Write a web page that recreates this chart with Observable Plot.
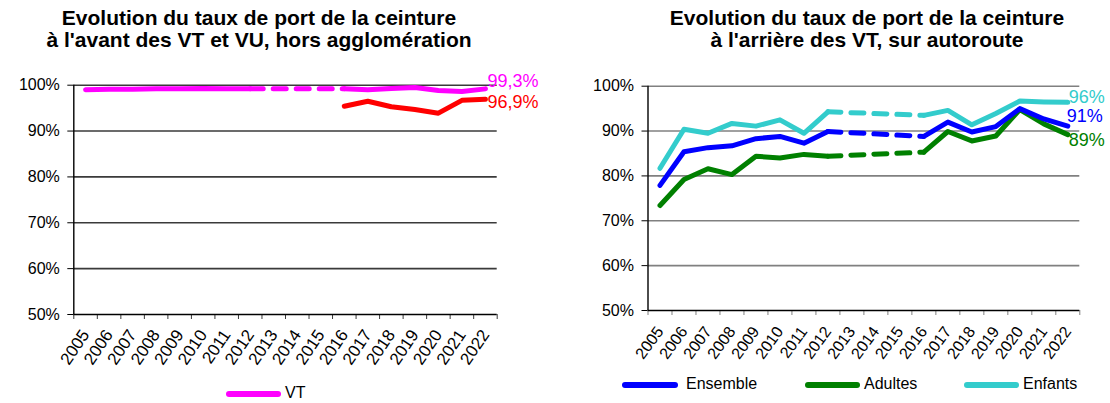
<!DOCTYPE html>
<html>
<head>
<meta charset="utf-8">
<script src="https://cdn.jsdelivr.net/npm/d3@7"></script>
<script src="https://cdn.jsdelivr.net/npm/@observablehq/plot@0.6"></script>
<style>
  html, body { margin: 0; padding: 0; background: #fff; }
  body { width: 1110px; height: 403px; overflow: hidden; font-family: "Liberation Sans", Arial, sans-serif; }
  #root { position: relative; width: 1110px; height: 403px; }
  .title { position: absolute; text-align: center; font-weight: bold; font-size: 21px; line-height: 22px; color: #000; white-space: nowrap; }
  .panel { position: absolute; top: 50px; }
  .leg { position: absolute; font-size: 16px; color: #000; white-space: nowrap; }
  .sw { position: absolute; height: 6px; border-radius: 3px; }
</style>
</head>
<body>
<div id="root"></div>
<script>
// ---------- data ----------
const years = [2005, 2006, 2007, 2008, 2009, 2010, 2011, 2012, 2013, 2014, 2015, 2016, 2017, 2018, 2019, 2020, 2021, 2022];
const yTicks = [50, 60, 70, 80, 90, 100];

// Left chart: front seats, outside built-up areas
const vt = [99.0, 99.1, 99.1, 99.2, 99.2, 99.3, 99.2, 99.2, null, null, null, 99.2, 99.0, 99.3, 99.5, 98.85, 98.65, 99.2];
const vu = [null, null, null, null, null, null, null, null, null, null, null, 95.4, 96.5, 95.3, 94.7, 93.9, 96.7, 96.95];
const leftLabels = ["99,3%", "96,9%"];

// Right chart: rear seats, motorways
const ensemble = [77.9, 85.4, 86.3, 86.7, 88.3, 88.8, 87.3, 89.9, null, null, null, 88.8, 92.0, 89.8, 91.0, 95.0, 92.7, 91.1];
const adultes  = [73.4, 79.2, 81.6, 80.3, 84.4, 84.0, 84.8, 84.4, null, null, null, 85.3, 89.9, 87.8, 88.9, 94.8, 91.6, 89.2];
const enfants  = [81.7, 90.4, 89.5, 91.7, 91.1, 92.5, 89.5, 94.3, null, null, null, 93.5, 94.6, 91.4, 93.9, 96.7, 96.5, 96.4];
const rightLabels = ["91%", "89%", "96%"];
const rightNames = ["Ensemble", "Adultes", "Enfants"];

const titles = [
  ["Evolution du taux de port de la ceinture", "à l'avant des VT et VU, hors agglomération"],
  ["Evolution du taux de port de la ceinture", "à l'arrière des VT, sur autoroute"]
];

// ---------- helpers ----------
const recs = arr => years.map((y, i) => ({year: y, v: arr[i]}));
const gapEnds = [2012, 2016];
const bounds = years.map(y => y - 0.5).concat([years[years.length - 1] + 0.5]);
const font = "'Liberation Sans', Arial, sans-serif";

function seriesMarks(arr, color, label, dx, dy) {
  const r = recs(arr);
  const dashed = r.filter(d => gapEnds.includes(d.year) && d.v != null);
  const last = r[r.length - 1];
  const marks = [
    Plot.line(r, {x: "year", y: "v", stroke: color, strokeWidth: 5, strokeLinecap: "round", strokeLinejoin: "round"})
  ];
  if (dashed.length === 2) {
    marks.push(Plot.line(dashed, {x: "year", y: "v", stroke: color, strokeWidth: 5, strokeLinecap: "round", strokeDasharray: "13,10"}));
  }
  marks.push(Plot.text([last], {x: "year", y: "v", text: () => label, fill: color, fontSize: 18, textAnchor: "start", dx, dy, fontFamily: font}));
  return marks;
}

function baseMarks(gridColor, xFont, xRotate, xPad) {
  return [
    Plot.ruleY(yTicks.filter(t => t > 50), {stroke: gridColor, strokeWidth: 1.6}),
    Plot.axisY({ticks: yTicks, tickFormat: d => d + "%", tickSize: 6, tickPadding: 8, fontSize: 16, label: null, stroke: "#000"}),
    Plot.axisX({ticks: bounds, tickSize: 5, tickFormat: () => "", label: null, stroke: gridColor}),
    Plot.axisX({ticks: years, tickSize: 0, tickRotate: xRotate, tickPadding: xPad, tickFormat: d => String(d), fontSize: xFont, label: null}),
    Plot.ruleY([50], {stroke: "#000", strokeWidth: 1.4}),
    Plot.ruleX([bounds[0]], {stroke: "#000", strokeWidth: 1.4})
  ];
}

const root = document.getElementById("root");

// ---------- left chart ----------
const left = Plot.plot({
  width: 555, height: 322,
  marginTop: 34.7, marginBottom: 58, marginLeft: 73.3, marginRight: 58.3,
  x: {domain: [bounds[0], bounds[bounds.length - 1]]},
  y: {domain: [50, 100]},
  style: {fontFamily: font, fontSize: "16px", background: "transparent", color: "#000", overflow: "visible"},
  marks: [
    ...baseMarks("#3a3a3a", 17, -56, 17),
    ...seriesMarks(vu, "#ff0000", leftLabels[1], 2, 3),
    ...seriesMarks(vt, "#ff00ff", leftLabels[0], 2, -8)
  ]
});

// ---------- right chart ----------
const right = Plot.plot({
  width: 555, height: 322,
  marginTop: 35.7, marginBottom: 62, marginLeft: 92.5, marginRight: 30.7,
  x: {domain: [bounds[0], bounds[bounds.length - 1]]},
  y: {domain: [50, 100]},
  style: {fontFamily: font, fontSize: "16px", background: "transparent", color: "#000", overflow: "visible"},
  marks: [
    ...baseMarks("#808080", 16, -54, 18),
    ...seriesMarks(adultes, "#008000", rightLabels[1], 1, 6),
    ...seriesMarks(ensemble, "#0000ff", rightLabels[0], -1, -10),
    ...seriesMarks(enfants, "#33cccc", rightLabels[2], 1, -5)
  ]
});

function addPanel(svg, x) {
  const p = document.createElement("div");
  p.className = "panel";
  p.style.left = x + "px";
  p.appendChild(svg);
  root.appendChild(p);
}
addPanel(left, 0);
addPanel(right, 555);

function addTitle(lines, cx) {
  const t = document.createElement("div");
  t.className = "title";
  t.style.left = (cx - 300) + "px";
  t.style.width = "600px";
  t.style.top = "7px";
  t.innerHTML = lines.map(l => `<div>${l}</div>`).join("");
  root.appendChild(t);
}
addTitle(titles[0], 259);
addTitle(titles[1], 867);

function addLegend(items, y) {
  for (const it of items) {
    const s = document.createElement("div");
    s.className = "sw";
    s.style.left = it.x + "px";
    s.style.width = it.w + "px";
    s.style.top = (y - 3) + "px";
    s.style.background = it.color;
    root.appendChild(s);
    const l = document.createElement("div");
    l.className = "leg";
    l.style.left = it.tx + "px";
    l.style.top = (y - 10) + "px";
    l.textContent = it.name;
    root.appendChild(l);
  }
}
addLegend([{name: "VT", color: "#ff00ff", x: 226, w: 55, tx: 285}], 394);
addLegend([
  {name: rightNames[0], color: "#0000ff", x: 622, w: 56, tx: 686},
  {name: rightNames[1], color: "#008000", x: 805, w: 55, tx: 864},
  {name: rightNames[2], color: "#33cccc", x: 964, w: 55, tx: 1023}
], 385);
</script>
</body>
</html>
